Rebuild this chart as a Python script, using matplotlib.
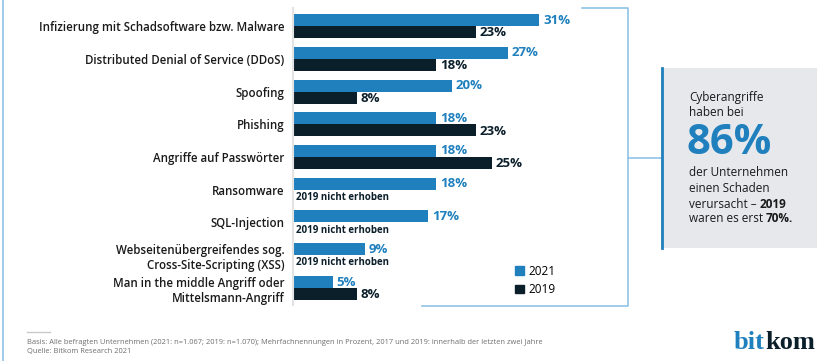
import matplotlib
matplotlib.use('Agg')
import matplotlib.pyplot as plt
from matplotlib.patches import Rectangle, Patch
from matplotlib.lines import Line2D

# data
categories = ['Infizierung mit Schadsoftware bzw. Malware',
              'Distributed Denial of Service (DDoS)',
              'Spoofing',
              'Phishing',
              'Angriffe auf Passwörter',
              'Ransomware',
              'SQL-Injection',
              'Webseitenübergreifendes sog.\nCross-Site-Scripting (XSS)',
              'Man in the middle Angriff oder\nMittelsmann-Angriff']
vals_2021 = [31, 27, 20, 18, 18, 18, 17, 9, 5]
vals_2019 = [23, 18, 8, 23, 25, None, None, None, 8]
series_names = ['2021', '2019']
not_collected = '2019 nicht erhoben'

BLUE = '#1f80bd'
DARK = '#0b1f2b'
LIGHT = '#8fc3e6'
FONT = 'Open Sans'

plt.rcParams['font.family'] = [FONT, 'DejaVu Sans']

W, H = 836, 361
fig = plt.figure(figsize=(W / 100, H / 100), dpi=100)

# overlay in pixel coords for the decoration
bg = fig.add_axes([0, 0, 1, 1])
bg.set_xlim(0, W)
bg.set_ylim(H, 0)
bg.axis('off')

# left border
bg.add_line(Line2D([3, 3], [0, H], color=LIGHT, lw=1.2))
# bracket around the chart
bg.add_line(Line2D([582, 628, 628, 422], [8, 8, 306, 306], color=LIGHT, lw=1.2))
bg.add_line(Line2D([628, 661], [158, 158], color=LIGHT, lw=1.2))
# info box
bg.add_patch(Rectangle((661, 68), 156, 180, facecolor='#e6e8ec', edgecolor='none'))
bg.add_line(Line2D([662, 662], [68, 248], color=BLUE, lw=2))
tx = 689
bg.text(tx, 97, 'Cyberangriffe', fontsize=8.5, color='#1a1a1a', va='center')
bg.text(tx, 113, 'haben bei', fontsize=8.5, color='#1a1a1a', va='center')
bg.text(tx - 2, 143, '86%', fontsize=30, fontweight='bold', color=BLUE, va='center')
bg.text(tx, 173, 'der Unternehmen', fontsize=8.5, color='#1a1a1a', va='center')
bg.text(tx, 189, 'einen Schaden', fontsize=8.5, color='#1a1a1a', va='center')
t = bg.text(tx, 204, 'verursacht – ', fontsize=8.5, color='#1a1a1a', va='center')
bg.annotate('2019', xycoords=t, xy=(1, 0.5), va='center', fontsize=8.5,
            fontweight='bold', color='#1a1a1a')
t = bg.text(tx, 219, 'waren es erst ', fontsize=8.5, color='#1a1a1a', va='center')
bg.annotate('70%.', xycoords=t, xy=(1, 0.5), va='center', fontsize=8.5,
            fontweight='bold', color='#1a1a1a')

# footer
bg.add_line(Line2D([27, 50], [332, 332], color='#c8c8c8', lw=1))
bg.text(27, 343, 'Basis: Alle befragten Unternehmen (2021: n=1.067; 2019: n=1.070); '
        'Mehrfachnennungen in Prozent, 2017 und 2019: innerhalb der letzten zwei Jahre',
        fontsize=5.45, color='#6e6e6e', va='center')
bg.text(27, 352, 'Quelle: Bitkom Research 2021', fontsize=5.45, color='#6e6e6e', va='center')
t = bg.text(734, 349, 'bit', fontsize=19, color=BLUE, family='Liberation Serif',
            fontweight='bold', va='baseline')
bg.annotate('kom', xycoords=t, xy=(1, 0), va='bottom', fontsize=19, color=DARK,
            family='Liberation Serif', fontweight='bold')

# bar chart
px_per_pct = 7.95
xmax = 40
ax = fig.add_axes([293 / W, 1 - 305 / H, xmax * px_per_pct / W, (305 - 8) / H])
ax.patch.set_alpha(0)
n = len(categories)
pitch = 32.75
ax.set_ylim((305 - 26) / pitch, (8 - 26) / pitch)
ax.set_xlim(0, xmax)
bh = 12 / pitch
ys = list(range(n))

ax.barh([y - bh / 2 for y in ys], vals_2021, height=bh, color=BLUE, label=series_names[0])
y19 = [y + bh / 2 for y, v in zip(ys, vals_2019) if v is not None]
v19 = [v for v in vals_2019 if v is not None]
ax.barh(y19, v19, height=bh, color=DARK, label=series_names[1])

for y, v in zip(ys, vals_2021):
    ax.text(v + 0.5, y - bh / 2, f'{v}%', color=BLUE, fontsize=9.5,
            fontweight='bold', va='center')
for y, v in zip(ys, vals_2019):
    if v is None:
        ax.text(0.4, y + bh / 2 + 0.05, not_collected, color=DARK, fontsize=7,
                fontweight='bold', va='center')
    else:
        ax.text(v + 0.5, y + bh / 2 + 0.03, f'{v}%', color=DARK, fontsize=9.5,
                fontweight='bold', va='center')

ax.set_yticks(ys)
ax.set_yticklabels(categories, fontsize=8.3, color='#1a1a1a', fontweight='semibold',
                   linespacing=1.25)
ax.tick_params(axis='y', length=0, pad=6)
ax.set_xticks([])
for s in ['top', 'right', 'bottom']:
    ax.spines[s].set_visible(False)
ax.spines['left'].set_color('#e3e3e3')
ax.spines['left'].set_linewidth(1.5)

handles = [Patch(color=BLUE, label=series_names[0]), Patch(color=DARK, label=series_names[1])]
fig.legend(handles=handles, loc='upper left', bbox_to_anchor=(510 / W, 1 - 260 / H),
           frameon=False, fontsize=8.5, handlelength=0.75, handleheight=0.75,
           handletextpad=0.4, labelspacing=0.45, borderaxespad=0)

fig.savefig('out.png', dpi=100)
